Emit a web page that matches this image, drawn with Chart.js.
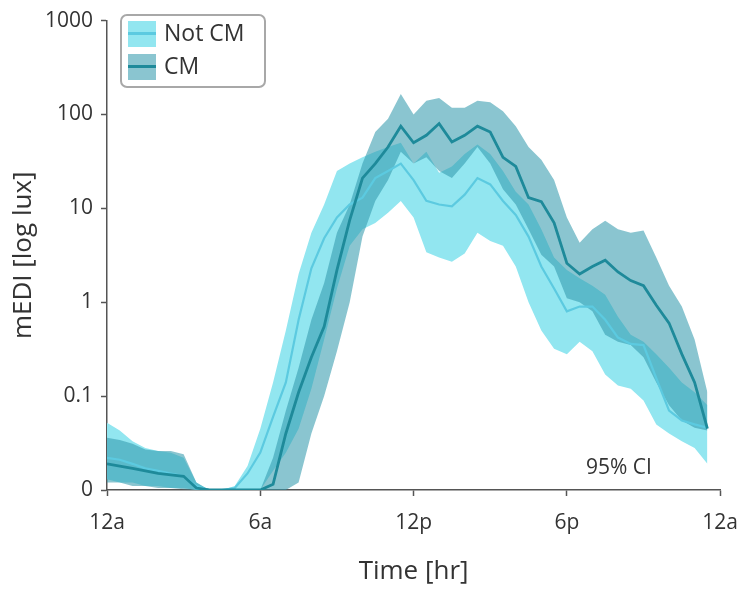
<!DOCTYPE html>
<html>
<head>
<meta charset="utf-8">
<script src="https://cdn.jsdelivr.net/npm/chart.js@4.4.1/dist/chart.umd.min.js"></script>
<style>
  body { margin: 0; background: #fff; }
  #wrap { position: relative; width: 752px; height: 593px; font-family: "Open Sans", sans-serif; }
  #legend {
    position: absolute; left: 120px; top: 14px; width: 142px; height: 70px;
    border: 2px solid #a8a8a8; border-radius: 7px; background: #fff;
  }
  .item { position: absolute; left: 6px; height: 26px; }
  .sw { position: absolute; left: 0; top: 0; width: 28px; height: 26px; }
  .sw span { position: absolute; left: 0; right: 0; top: 11px; height: 3px; }
  .lab { position: absolute; left: 36px; top: -5px; font-size: 23px; color: #333; white-space: nowrap; }
  #ci { position: absolute; left: 586px; top: 452px; font-size: 21px; color: #333; }
</style>
</head>
<body>
<div id="wrap">
  <canvas id="myChart" width="752" height="593"></canvas>
  <div id="legend">
    <div class="item" style="top:5px"><div class="sw" style="background:#92e6f0"><span style="background:#5ccae0"></span></div><div class="lab">Not CM</div></div>
    <div class="item" style="top:38px"><div class="sw" style="background:#8ac5d0"><span style="background:#1e8a9a"></span></div><div class="lab">CM</div></div>
  </div>
  <div id="ci">95% CI</div>
</div>
<script>
// time of day in hours
const hours = [0, 0.5, 1, 1.5, 2, 2.5, 3, 3.5, 4, 4.5, 5, 5.5, 6, 6.5, 7, 7.5,
  8, 8.5, 9, 9.5, 10, 10.5, 11, 11.5, 12, 12.5, 13, 13.5, 14, 14.5, 15, 15.5,
  16, 16.5, 17, 17.5, 18, 18.5, 19, 19.5, 20, 20.5, 21, 21.5, 22, 22.5, 23, 23.5];

// Not CM (lux)
const notCmMean = [0.022, 0.021, 0.019, 0.017, 0.016, 0.015, 0.014, 0.011,
  0.01, 0.01, 0.0105, 0.015, 0.025, 0.06, 0.14, 0.65,
  2.3, 4.8, 8, 11, 13, 21, 25, 30,
  20, 12, 11, 10.5, 14, 21, 18, 12,
  8.5, 5, 2.4, 1.4, 0.8, 0.9, 0.9, 0.65,
  0.42, 0.36, 0.35, 0.155, 0.07, 0.055, 0.05, 0.046];
const notCmLower = [0.013, 0.012, 0.012, 0.011, 0.011, 0.0105, 0.0105, 0.01,
  0.01, 0.01, 0.01, 0.01, 0.01, 0.016, 0.025, 0.045,
  0.12, 0.4, 1.4, 4, 6, 7, 9, 12,
  8, 3.4, 3, 2.7, 3.3, 5.5, 4.5, 4,
  2.4, 1.0, 0.5, 0.32, 0.28, 0.38, 0.3, 0.17,
  0.13, 0.12, 0.09, 0.05, 0.04, 0.033, 0.028, 0.019];
const notCmUpper = [0.052, 0.043, 0.033, 0.028, 0.026, 0.025, 0.022, 0.012,
  0.01, 0.01, 0.011, 0.018, 0.045, 0.14, 0.5, 2,
  5.5, 11, 25, 30, 35, 40, 45, 50,
  30, 40, 24, 28, 38, 48, 38, 25,
  15, 11, 6, 3, 2.2, 1.8, 1.5, 1.2,
  0.7, 0.45, 0.38, 0.28, 0.2, 0.14, 0.11, 0.08];

// CM (lux)
const cmMean = [0.019, 0.018, 0.017, 0.016, 0.015, 0.0145, 0.014, 0.0105,
  0.01, 0.01, 0.01, 0.01, 0.01, 0.0115, 0.04, 0.11,
  0.26, 0.55, 2.2, 7.5, 21, 30, 45, 75,
  50, 60, 80, 51, 60, 75, 65, 35,
  28, 13, 11.8, 7, 2.6, 2.0, 2.4, 2.8,
  2.1, 1.7, 1.5, 0.93, 0.6, 0.28, 0.14, 0.045];
const cmLower = [0.012, 0.012, 0.011, 0.011, 0.0105, 0.0105, 0.0102, 0.01,
  0.01, 0.01, 0.01, 0.01, 0.01, 0.01, 0.01, 0.012,
  0.04, 0.1, 0.3, 1.0, 5, 12, 20, 40,
  30, 35, 25, 21, 30, 45, 30, 16,
  11, 6, 3.2, 2.4, 1.1, 1.0, 0.8, 0.45,
  0.38, 0.35, 0.26, 0.14, 0.08, 0.055, 0.046, 0.043];
const cmUpper = [0.036, 0.034, 0.031, 0.027, 0.026, 0.026, 0.024, 0.012,
  0.01, 0.01, 0.01, 0.01, 0.01, 0.022, 0.07, 0.2,
  0.65, 1.6, 5.5, 11, 30, 65, 90, 165,
  100, 140, 150, 118, 118, 140, 135, 108,
  75, 45, 33, 20, 8, 4.3, 6, 7.4,
  6, 5.5, 5.8, 3, 1.5, 0.9, 0.4, 0.11];

const yTicks = [0.01, 0.1, 1, 10, 100, 1000];
const yTickLabels = ["0", "0.1", "1", "10", "100", "1000"];
const xTicks = [0, 6, 12, 18, 24];
const xTickLabels = ["12a", "6a", "12p", "6p", "12a"];

function pts(arr) {
  return arr.map((v, i) => ({ x: hours[i], y: v }));
}

const axisColor = "#555";
const textColor = "#333";
const fontFam = "'Open Sans', sans-serif";

const ctx = document.getElementById("myChart");
const myChart = new Chart(ctx, {
  type: "line",
  data: {
    datasets: [
      { label: "Not CM lower", data: pts(notCmLower), borderWidth: 0, pointRadius: 0, fill: false, order: 3 },
      { label: "Not CM upper", data: pts(notCmUpper), borderWidth: 0, pointRadius: 0,
        fill: "-1", backgroundColor: "#92e6f0", order: 3 },
      { label: "CM lower", data: pts(cmLower), borderWidth: 0, pointRadius: 0, fill: false, order: 2 },
      { label: "CM upper", data: pts(cmUpper), borderWidth: 0, pointRadius: 0,
        fill: "-1", backgroundColor: "rgba(50,153,173,0.57)", order: 2 },
      { label: "Not CM", data: pts(notCmMean), borderColor: "#5ccae0", borderWidth: 2.2,
        pointRadius: 0, fill: false, order: 1 },
      { label: "CM", data: pts(cmMean), borderColor: "#1e8a9a", borderWidth: 2.8,
        pointRadius: 0, fill: false, order: 0 },
    ],
  },
  options: {
    responsive: false,
    animation: false,
    layout: { padding: { left: 0, right: 30, top: 16, bottom: 6 } },
    plugins: { legend: { display: false }, tooltip: { enabled: false } },
    scales: {
      x: {
        type: "linear",
        min: 0,
        max: 24,
        afterBuildTicks: (s) => { s.ticks = xTicks.map((v) => ({ value: v })); },
        afterFit: (s) => { s.height = 97; },
        ticks: {
          callback: (v) => xTickLabels[xTicks.indexOf(v)],
          color: textColor,
          font: { family: fontFam, size: 21 },
          padding: 14,
          maxRotation: 0,
        },
        grid: { drawOnChartArea: false, color: axisColor, tickLength: 6, tickWidth: 1.5 },
        border: { color: axisColor, width: 1.5 },
        title: {
          display: true,
          text: "Time [hr]",
          color: textColor,
          font: { family: fontFam, size: 26 },
          padding: { top: 10, bottom: 0 },
        },
      },
      y: {
        type: "logarithmic",
        min: 0.01,
        max: 1000,
        afterBuildTicks: (s) => { s.ticks = yTicks.map((v) => ({ value: v })); },
        afterFit: (s) => { s.width = 107; },
        ticks: {
          callback: (v) => yTickLabels[yTicks.indexOf(v)],
          color: textColor,
          font: { family: fontFam, size: 21 },
          padding: 8,
        },
        grid: { drawOnChartArea: false, color: axisColor, tickLength: 6, tickWidth: 1.5 },
        border: { color: axisColor, width: 1.5 },
        title: {
          display: true,
          text: "mEDI [log lux]",
          color: textColor,
          font: { family: fontFam, size: 26 },
          padding: { top: 8, bottom: 0 },
        },
      },
    },
  },
});
</script>
</body>
</html>
